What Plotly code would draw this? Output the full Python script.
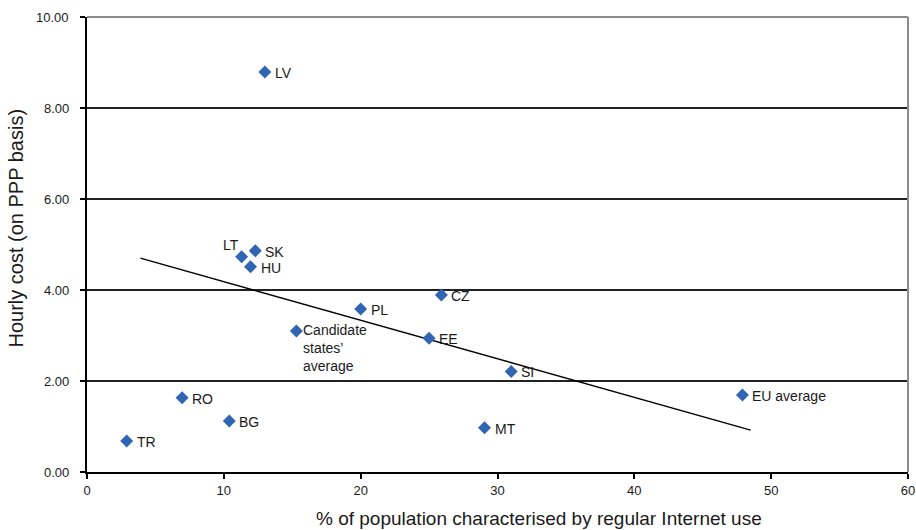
import plotly.graph_objects as go

# Data
codes = ["LV", "LT", "SK", "HU", "CZ", "PL", "Candidate<br>states’<br>average", "EE", "SI",
         "EU average", "RO", "BG", "TR", "MT"]
internet_use = [13.0, 11.3, 12.3, 11.95, 25.9, 20.0, 15.3, 25.0, 31.0, 47.9, 6.95, 10.4, 2.9, 29.05]
hourly_cost = [8.79, 4.73, 4.86, 4.51, 3.89, 3.58, 3.10, 2.94, 2.21, 1.69, 1.63, 1.12, 0.68, 0.97]

trend_x = [3.9, 48.5]
trend_y = [4.70, 0.92]

x_ticks = [0, 10, 20, 30, 40, 50, 60]
y_ticks = [0, 2, 4, 6, 8, 10]

x_title = "% of population characterised by regular Internet use"
y_title = "Hourly cost (on PPP basis)"

FONT = "Liberation Sans, Arial, sans-serif"
BLUE = "#2f65b2"
TXT = "#1a1a1a"

fig = go.Figure()

fig.add_trace(go.Scatter(
    x=trend_x, y=trend_y, mode="lines",
    line=dict(color="black", width=1.5), hoverinfo="skip", showlegend=False,
))

fig.add_trace(go.Scatter(
    x=internet_use, y=hourly_cost, mode="markers",
    marker=dict(symbol="diamond", size=10, color=BLUE, line=dict(width=0)),
    showlegend=False,
))

for code, xv, yv in zip(codes, internet_use, hourly_cost):
    if code == "LT":
        fig.add_annotation(x=xv, y=yv, text=code, showarrow=False,
                           xanchor="right", yanchor="bottom", xshift=-1, yshift=2,
                           font=dict(family=FONT, size=14, color=TXT))
    elif code.startswith("Candidate"):
        fig.add_annotation(x=xv, y=yv, text=code, showarrow=False, align="left",
                           xanchor="left", yanchor="top", xshift=5, yshift=11,
                           font=dict(family=FONT, size=14, color=TXT))
    else:
        fig.add_annotation(x=xv, y=yv, text=code, showarrow=False,
                           xanchor="left", yanchor="middle", xshift=8, yshift=-1,
                           font=dict(family=FONT, size=14, color=TXT))

# y tick labels, set further from the axis as in the reference
for v in y_ticks:
    fig.add_annotation(xref="paper", yref="y", x=0, y=v, text=f"{v:.2f}",
                       showarrow=False, xanchor="right", yanchor="middle", xshift=-16,
                       font=dict(family=FONT, size=13, color=TXT))

# axis titles (placed off-centre as in the reference)
fig.add_annotation(xref="paper", yref="paper", x=0.5505, y=-0.103, text=x_title,
                   showarrow=False, xanchor="center", yanchor="middle",
                   font=dict(family=FONT, size=19, color=TXT))
fig.add_annotation(xref="paper", yref="paper", x=-0.086, y=0.536, text=y_title,
                   showarrow=False, xanchor="center", yanchor="middle", textangle=-90,
                   font=dict(family=FONT, size=20, color=TXT))

# gray top and right border
fig.add_shape(type="line", xref="x domain", yref="y domain", x0=0, x1=1, y0=1, y1=1,
              line=dict(color="#8c8c8c", width=2), layer="above")
fig.add_shape(type="line", xref="x domain", yref="y domain", x0=1, x1=1, y0=0, y1=1,
              line=dict(color="#8c8c8c", width=2), layer="above")

fig.update_xaxes(
    range=[0, 60], tickvals=x_ticks, ticktext=[str(v) for v in x_ticks],
    showgrid=False, zeroline=False, showline=True, linecolor="black", linewidth=2,
    ticks="outside", ticklen=5, tickcolor="black", tickwidth=1.5,
    tickfont=dict(family=FONT, size=13, color=TXT), automargin=False,
)
fig.update_yaxes(
    range=[0, 10], tickvals=y_ticks, showticklabels=False,
    showgrid=True, gridcolor="#222", gridwidth=1.5, zeroline=False,
    showline=True, linecolor="black", linewidth=2,
    ticks="outside", ticklen=5, tickcolor="black", tickwidth=1.5,
    automargin=False,
)

fig.update_layout(
    width=916, height=530,
    margin=dict(l=87, r=8, t=17, b=58),
    plot_bgcolor="white", paper_bgcolor="white",
    font=dict(family=FONT),
)

fig.write_html("out.html", config={"displayModeBar": False},
               post_script="document.body.style.margin='0';document.body.style.overflow='hidden';")
